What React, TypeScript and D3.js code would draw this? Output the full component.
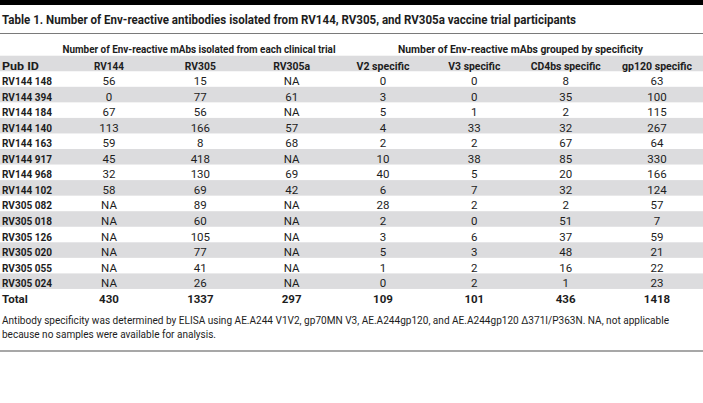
import React from "react";
import * as d3 from "d3";

const titleText = "Table 1. Number of Env-reactive antibodies isolated from RV144, RV305, and RV305a vaccine trial participants";
const groupLabels = [
  "Number of Env-reactive mAbs isolated from each clinical trial",
  "Number of Env-reactive mAbs grouped by specificity",
];
const columnLabels = ["RV144", "RV305", "RV305a", "V2 specific", "V3 specific", "CD4bs specific", "gp120 specific"];
const pubIds = [
  "RV144 148", "RV144 394", "RV144 184", "RV144 140", "RV144 163", "RV144 917", "RV144 968",
  "RV144 102", "RV305 082", "RV305 018", "RV305 126", "RV305 020", "RV305 055", "RV305 024",
];
const rv144 = ["56", "0", "67", "113", "59", "45", "32", "58", "NA", "NA", "NA", "NA", "NA", "NA"];
const rv305 = ["15", "77", "56", "166", "8", "418", "130", "69", "89", "60", "105", "77", "41", "26"];
const rv305a = ["NA", "61", "NA", "57", "68", "NA", "69", "42", "NA", "NA", "NA", "NA", "NA", "NA"];
const v2Specific = [0, 3, 5, 4, 2, 10, 40, 6, 28, 2, 3, 5, 1, 0];
const v3Specific = [0, 0, 1, 33, 2, 38, 5, 7, 2, 0, 6, 3, 2, 2];
const cd4bsSpecific = [8, 35, 2, 32, 67, 85, 20, 32, 2, 51, 37, 48, 16, 1];
const gp120Specific = [63, 100, 115, 267, 64, 330, 166, 124, 57, 7, 59, 21, 22, 23];
const totals = [430, 1337, 297, 109, 101, 436, 1418];
const footnoteLines = [
  "Antibody specificity was determined by ELISA using AE.A244 V1V2, gp70MN V3, AE.A244gp120, and AE.A244gp120 \u0394371I/P363N. NA, not applicable",
  "because no samples were available for analysis.",
];

// layout (not data)
const W = 703;
const H = 403;
const FONT = "Roboto, 'Open Sans', sans-serif";
const TEXT = "#1d1d1d";
const BAND = "#dcdcde";
const headerWidths = [30, 31, 37, 53, 52, 70, 70];

export default function App() {
  const series = [rv144, rv305, rv305a, v2Specific, v3Specific, cd4bsSpecific, gp120Specific];
  const nRows = pubIds.length + 1; // + total
  const x = d3.scalePoint<number>().domain(d3.range(columnLabels.length)).range([109, 657]);
  const y = d3.scaleLinear().domain([0, nRows]).range([69.5, 69.5 + 15.55 * nRows]);
  const rowH = y(1) - y(0);

  const bandRows = [0, ...d3.range(1, pubIds.length + 1).filter((i) => i % 2 === 0)];

  return (
    <svg
      width={W}
      height={H}
      viewBox={`0 0 ${W} ${H}`}
      style={{ position: "fixed", left: 0, top: 0, background: "#fff" }}
      fontFamily={FONT}
    >
      <rect x={0} y={0} width={W} height={H} fill="#fff" />
      <rect x={0} y={0} width={W} height={5} fill="#000" />
      <text x={2} y={23.5} fontSize={13} fontWeight={700} fill={TEXT} textLength={574} lengthAdjust="spacingAndGlyphs">
        {titleText}
      </text>
      <line x1={0} x2={W} y1={33.5} y2={33.5} stroke="#7a7a7a" strokeWidth={1.2} />

      <text x={62.5} y={53.3} fontSize={11.5} fontWeight={700} fill={TEXT} textLength={273} lengthAdjust="spacingAndGlyphs">
        {groupLabels[0]}
      </text>
      <text x={398} y={53.3} fontSize={11.5} fontWeight={700} fill={TEXT} textLength={245} lengthAdjust="spacingAndGlyphs">
        {groupLabels[1]}
      </text>

      {bandRows.map((r) => (
        <rect key={"b" + r} x={0} width={W} y={y(r) - 13.8} height={rowH} fill={BAND} />
      ))}

      <text x={2} y={y(0)} fontSize={11.5} fontWeight={700} fill={TEXT} textLength={37} lengthAdjust="spacingAndGlyphs">
        Pub ID
      </text>
      {columnLabels.map((c, j) => (
        <text key={c} x={x(j)} y={y(0)} fontSize={11.5} fontWeight={700} fill={TEXT} textAnchor="middle"
          textLength={headerWidths[j]} lengthAdjust="spacingAndGlyphs">
          {c}
        </text>
      ))}

      {pubIds.map((id, i) => (
        <g key={id}>
          <text x={2} y={y(i + 1)} fontSize={11.5} fontWeight={700} fill={TEXT} textLength={50} lengthAdjust="spacingAndGlyphs">
            {id}
          </text>
          {series.map((s, j) => (
            <text key={j} x={x(j)} y={y(i + 1)} fontSize={11.5} fill={TEXT} textAnchor="middle">
              {String(s[i])}
            </text>
          ))}
        </g>
      ))}

      <text x={2} y={y(nRows)} fontSize={11.5} fontWeight={700} fill={TEXT}>
        Total
      </text>
      {totals.map((t, j) => (
        <text key={"t" + j} x={x(j)} y={y(nRows)} fontSize={11.5} fontWeight={700} fill={TEXT} textAnchor="middle">
          {String(t)}
        </text>
      ))}

      <text x={2} y={323.5} fontSize={10.5} fill={TEXT} textLength={667} lengthAdjust="spacingAndGlyphs">
        {footnoteLines[0]}
      </text>
      <text x={2} y={338} fontSize={10.5} fill={TEXT} textLength={214} lengthAdjust="spacingAndGlyphs">
        {footnoteLines[1]}
      </text>
      <line x1={0} x2={W} y1={351} y2={351} stroke="#8a8a8a" strokeWidth={1.5} />
    </svg>
  );
}
